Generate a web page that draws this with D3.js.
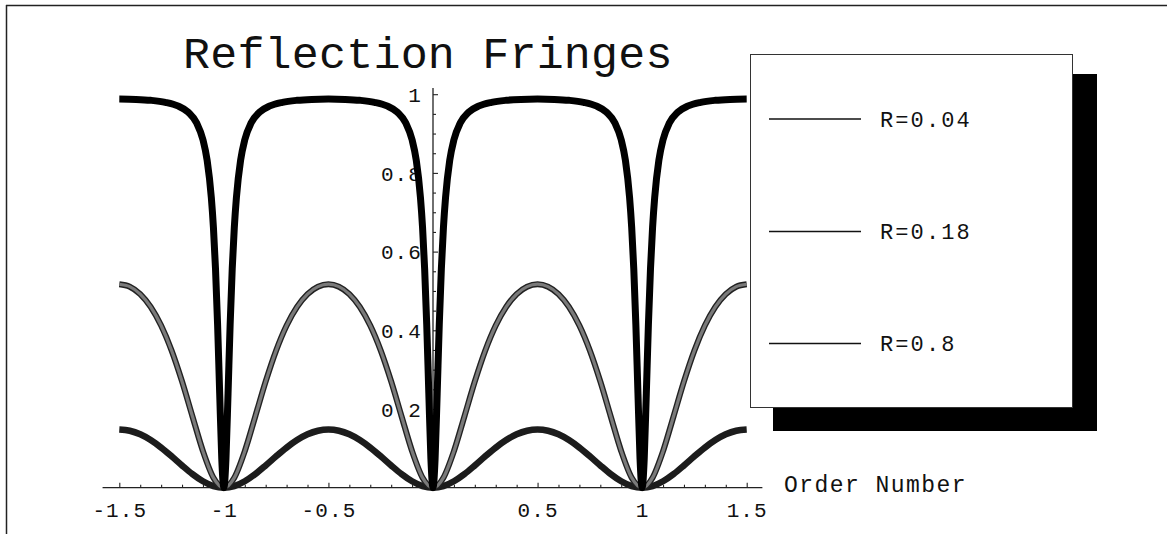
<!DOCTYPE html>
<html>
<head>
<meta charset="utf-8">
<script src="https://cdn.jsdelivr.net/npm/d3@7/dist/d3.min.js"></script>
<style>
  html, body { margin: 0; padding: 0; background: #fff; }
  svg { display: block; }
  .mono { font-family: "Courier New", Courier, "Liberation Mono", monospace; fill: #111; }
</style>
</head>
<body>
<svg id="chart" width="1167" height="534"></svg>
<script>
// Order number grid (step 0.05) for the two low-finesse curves
const orderGrid = [-1.5,-1.45,-1.4,-1.35,-1.3,-1.25,-1.2,-1.15,-1.1,-1.05,-1,
  -0.95,-0.9,-0.85,-0.8,-0.75,-0.7,-0.65,-0.6,-0.55,-0.5,
  -0.45,-0.4,-0.35,-0.3,-0.25,-0.2,-0.15,-0.1,-0.05,0,
  0.05,0.1,0.15,0.2,0.25,0.3,0.35,0.4,0.45,0.5,
  0.55,0.6,0.65,0.7,0.75,0.8,0.85,0.9,0.95,1,
  1.05,1.1,1.15,1.2,1.25,1.3,1.35,1.4,1.45,1.5];

// Reflected intensity, R = 0.04
const fringeR004 = [0.1479,0.1448,0.1357,0.1211,0.1020,0.0799,0.0566,0.0345,0.0163,0.0042,0,
  0.0042,0.0163,0.0345,0.0566,0.0799,0.1020,0.1211,0.1357,0.1448,0.1479,
  0.1448,0.1357,0.1211,0.1020,0.0799,0.0566,0.0345,0.0163,0.0042,0,
  0.0042,0.0163,0.0345,0.0566,0.0799,0.1020,0.1211,0.1357,0.1448,0.1479,
  0.1448,0.1357,0.1211,0.1020,0.0799,0.0566,0.0345,0.0163,0.0042,0,
  0.0042,0.0163,0.0345,0.0566,0.0799,0.1020,0.1211,0.1357,0.1448,0.1479];

// Reflected intensity, R = 0.18
const fringeR018 = [0.5171,0.5109,0.4920,0.4595,0.4121,0.3487,0.2700,0.1808,0.0928,0.0255,0,
  0.0255,0.0928,0.1808,0.2700,0.3487,0.4121,0.4595,0.4920,0.5109,0.5171,
  0.5109,0.4920,0.4595,0.4121,0.3487,0.2700,0.1808,0.0928,0.0255,0,
  0.0255,0.0928,0.1808,0.2700,0.3487,0.4121,0.4595,0.4920,0.5109,0.5171,
  0.5109,0.4920,0.4595,0.4121,0.3487,0.2700,0.1808,0.0928,0.0255,0,
  0.0255,0.0928,0.1808,0.2700,0.3487,0.4121,0.4595,0.4920,0.5109,0.5171];

// Finer order grid for the sharp R = 0.8 fringes
const orderGridFine = [-1.5,-1.42,-1.35,-1.28,-1.22,-1.17,-1.13,-1.1,-1.08,-1.06,-1.05,-1.04,-1.03,-1.02,-1.01,-1,
  -0.99,-0.98,-0.97,-0.96,-0.95,-0.94,-0.92,-0.9,-0.87,-0.83,-0.78,-0.72,-0.65,-0.58,-0.5,
  -0.42,-0.35,-0.28,-0.22,-0.17,-0.13,-0.1,-0.08,-0.06,-0.05,-0.04,-0.03,-0.02,-0.01,0,
  0.01,0.02,0.03,0.04,0.05,0.06,0.08,0.1,0.13,0.17,0.22,0.28,0.35,0.42,0.5,
  0.58,0.65,0.72,0.78,0.83,0.87,0.9,0.92,0.94,0.95,0.96,0.97,0.98,0.99,1,
  1.01,1.02,1.03,1.04,1.05,1.06,1.08,1.1,1.13,1.17,1.22,1.28,1.35,1.42,1.5];

// Reflected intensity, R = 0.8
const fringeR080 = [0.9877,0.9868,0.9845,0.9794,0.9702,0.9540,0.9266,0.8843,0.8319,0.7375,0.6619,0.5569,0.4147,0.2398,0.0732,0,
  0.0732,0.2398,0.4147,0.5569,0.6619,0.7375,0.8319,0.8843,0.9266,0.9540,0.9702,0.9794,0.9845,0.9868,0.9877,
  0.9868,0.9845,0.9794,0.9702,0.9540,0.9266,0.8843,0.8319,0.7375,0.6619,0.5569,0.4147,0.2398,0.0732,0,
  0.0732,0.2398,0.4147,0.5569,0.6619,0.7375,0.8319,0.8843,0.9266,0.9540,0.9702,0.9794,0.9845,0.9868,0.9877,
  0.9868,0.9845,0.9794,0.9702,0.9540,0.9266,0.8843,0.8319,0.7375,0.6619,0.5569,0.4147,0.2398,0.0732,0,
  0.0732,0.2398,0.4147,0.5569,0.6619,0.7375,0.8319,0.8843,0.9266,0.9540,0.9702,0.9794,0.9845,0.9868,0.9877];

const seriesLabels = ["R=0.04", "R=0.18", "R=0.8"];
const xTickValues = [-1.5, -1, -0.5, 0.5, 1, 1.5];
const xTickLabels = ["-1.5", "-1", "-0.5", "0.5", "1", "1.5"];
const xMinorTicks = [-1.4,-1.3,-1.2,-1.1,-0.9,-0.8,-0.7,-0.6,-0.4,-0.3,-0.2,-0.1,
                     0.1,0.2,0.3,0.4,0.6,0.7,0.8,0.9,1.1,1.2,1.3,1.4];
const yTickValues = [0.2, 0.4, 0.6, 0.8, 1];
const yTickLabels = ["0.2", "0.4", "0.6", "0.8", "1"];
const yMinorTicks = [0.05,0.1,0.15,0.25,0.3,0.35,0.45,0.5,0.55,0.65,0.7,0.75,0.85,0.9,0.95];
const xPlotRange = [-1.58, 1.575];
const yPlotRange = [0, 1.016];
const titleText = "Reflection Fringes";
const xAxisTitle = "Order Number";

const svg = d3.select("#chart");

const x = d3.scaleLinear().domain([-1.5, 1.5]).range([119.3, 746.7]);
const y = d3.scaleLinear().domain([0, 1]).range([487.7, 94.2]);

// Page frame (top rule and left edge)
svg.append("line").attr("x1", 6).attr("x2", 1167).attr("y1", 5.5).attr("y2", 5.5)
  .attr("stroke", "#222").attr("stroke-width", 1.5);
svg.append("line").attr("x1", 6.5).attr("x2", 6.5).attr("y1", 5).attr("y2", 534)
  .attr("stroke", "#222").attr("stroke-width", 1.5);

// Title
svg.append("text").attr("class", "mono")
  .attr("x", 183).attr("y", 68)
  .style("font-size", "45px").style("letter-spacing", "0.2px")
  .text(titleText);

// Axis lines through the origin
const axes = svg.append("g").attr("stroke", "#222").attr("stroke-width", 1.3);
axes.append("line")
  .attr("x1", x(xPlotRange[0])).attr("x2", x(xPlotRange[1]))
  .attr("y1", y(0)).attr("y2", y(0));
axes.append("line")
  .attr("x1", x(0)).attr("x2", x(0))
  .attr("y1", y(yPlotRange[1])).attr("y2", y(yPlotRange[0]));

// X axis: major ticks with labels, minor ticks without
const xMajor = svg.append("g").attr("transform", `translate(0,${y(0)})`)
  .call(d3.axisBottom(x).tickValues(xTickValues).tickSize(-5)
    .tickFormat((d, i) => xTickLabels[i]));
xMajor.select(".domain").remove();
xMajor.selectAll("text").attr("class", "mono").attr("y", 29.3).attr("dy", null)
  .style("font-size", "21px").style("letter-spacing", "1.1px");
const xMinor = svg.append("g").attr("transform", `translate(0,${y(0)})`)
  .call(d3.axisBottom(x).tickValues(xMinorTicks).tickSize(-3).tickFormat(""));
xMinor.select(".domain").remove();

// Y axis: ticks point right of the axis, labels to the left
const yMajor = svg.append("g").attr("transform", `translate(${x(0)},0)`)
  .call(d3.axisLeft(y).tickValues(yTickValues).tickSize(-5).tickPadding(11)
    .tickFormat((d, i) => yTickLabels[i]));
yMajor.select(".domain").remove();
yMajor.selectAll("text").attr("class", "mono").attr("dy", "0.34em")
  .style("font-size", "21px").style("letter-spacing", "1.1px");
const yMinor = svg.append("g").attr("transform", `translate(${x(0)},0)`)
  .call(d3.axisLeft(y).tickValues(yMinorTicks).tickSize(-3).tickFormat(""));
yMinor.select(".domain").remove();

svg.selectAll(".tick line").attr("stroke", "#222").attr("stroke-width", 1.1);

// Axis title
svg.append("text").attr("class", "mono")
  .attr("x", 784).attr("y", 492)
  .style("font-size", "23px").style("letter-spacing", "1.45px")
  .text(xAxisTitle);

// Fringe curves
const line = d3.line().x(d => x(d[0])).y(d => y(d[1])).curve(d3.curveMonotoneX);
const dataR004 = orderGrid.map((m, i) => [m, fringeR004[i]]);
const dataR018 = orderGrid.map((m, i) => [m, fringeR018[i]]);
const dataR080 = orderGridFine.map((m, i) => [m, fringeR080[i]]);

const curves = svg.append("g").attr("fill", "none").attr("stroke-linecap", "butt");
curves.append("path").attr("d", line(dataR004))
  .attr("stroke", "#1c1c1c").attr("stroke-width", 6.5);
curves.append("path").attr("d", line(dataR018))
  .attr("stroke", "#222").attr("stroke-width", 6);
curves.append("path").attr("d", line(dataR018))
  .attr("stroke", "#7a7a7a").attr("stroke-width", 3.2);
curves.append("path").attr("d", line(dataR080))
  .attr("stroke", "#000").attr("stroke-width", 7);

// Legend with drop shadow
const legend = svg.append("g");
legend.append("rect").attr("x", 773).attr("y", 74).attr("width", 324).attr("height", 357)
  .attr("fill", "#000");
legend.append("rect").attr("x", 750.5).attr("y", 54.5).attr("width", 322).attr("height", 353)
  .attr("fill", "#fff").attr("stroke", "#333").attr("stroke-width", 1);
const legendRows = [119, 231.5, 343.5];
seriesLabels.forEach((label, i) => {
  legend.append("line")
    .attr("x1", 769).attr("x2", 861).attr("y1", legendRows[i]).attr("y2", legendRows[i])
    .attr("stroke", "#111").attr("stroke-width", 1.3);
  legend.append("text").attr("class", "mono")
    .attr("x", 880).attr("y", legendRows[i] + 7.5)
    .style("font-size", "22px").style("letter-spacing", "2.1px")
    .text(label);
});
</script>
</body>
</html>
